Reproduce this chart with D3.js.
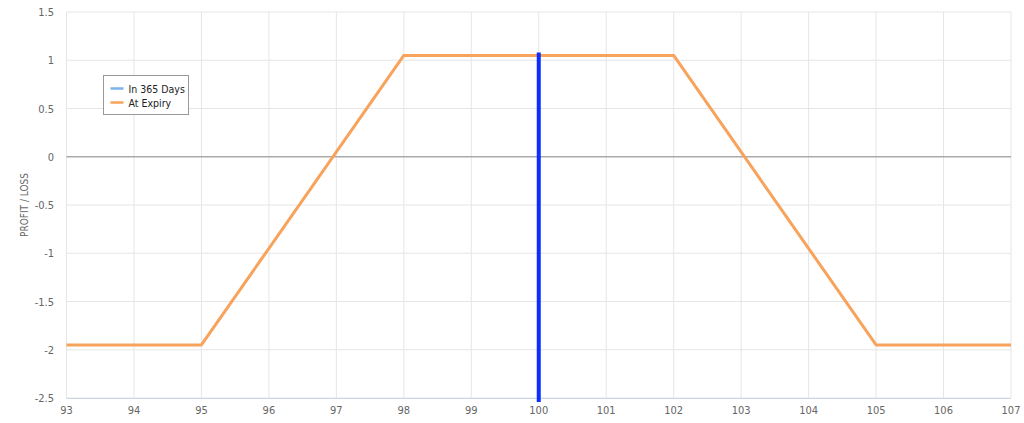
<!DOCTYPE html>
<html><head><meta charset="utf-8">
<script src="https://cdn.jsdelivr.net/npm/d3@7"></script>
<style>
body{margin:0;background:#fff;}
text{font-family:"DejaVu Sans Condensed","DejaVu Sans",sans-serif;font-stretch:condensed;}
</style></head><body>
<svg id="c" width="1024" height="423"></svg>
<script>
const xTicks = [93,94,95,96,97,98,99,100,101,102,103,104,105,106,107];
const yTicks = [-2.5,-2,-1.5,-1,-0.5,0,0.5,1,1.5];
const expiryX = [93,95,98,102,105,107];
const expiryY = [-1.95,-1.95,1.05,1.05,-1.95,-1.95];
const currentPrice = 100;
const seriesNames = ["In 365 Days","At Expiry"];
const seriesColors = ["#7cb5ec","#f7a35c"];

const svg = d3.select("#c");
const L=66.5,R=1011,T=12,B=398;
const x = d3.scaleLinear().domain([93,107]).range([L,R]);
const y = d3.scaleLinear().domain([-2.5,1.5]).range([B,T]);

// grid
svg.append("g").selectAll("line").data(xTicks).join("line")
  .attr("x1",d=>x(d)).attr("x2",d=>x(d)).attr("y1",T).attr("y2",B)
  .attr("stroke","#e6e6e6").attr("stroke-width",1);
svg.append("g").selectAll("line").data(yTicks).join("line")
  .attr("x1",L).attr("x2",R).attr("y1",d=>y(d)).attr("y2",d=>y(d))
  .attr("stroke",d=>d===0?"#aaaaaa":"#e6e6e6").attr("stroke-width",d=>d===0?1.5:1);
// bottom axis line
svg.append("line").attr("x1",L).attr("x2",R).attr("y1",B+0.5).attr("y2",B+0.5)
  .attr("stroke","#ccd6eb");

// tick labels
svg.append("g").selectAll("text").data(xTicks).join("text")
  .attr("x",d=>x(d)).attr("y",414).attr("text-anchor","middle")
  .attr("font-size",11).attr("fill","#666").text(d=>d);
svg.append("g").selectAll("text").data(yTicks).join("text")
  .attr("x",54).attr("y",d=>y(d)+4).attr("text-anchor","end")
  .attr("font-size",11).attr("fill","#666").text(d=>d);

svg.append("text").attr("transform","translate(28,205) rotate(-90)")
  .attr("text-anchor","middle").attr("font-size",10).attr("fill","#666")
  .text("PROFIT / LOSS");

// expiry line
const pts = expiryX.map((d,i)=>[d,expiryY[i]]);
svg.append("path").datum(pts)
  .attr("d",d3.line().x(d=>x(d[0])).y(d=>y(d[1])))
  .attr("fill","none").attr("stroke",seriesColors[1]).attr("stroke-width",3)
  .attr("stroke-linejoin","round");

// current price line
svg.append("line").attr("x1",x(currentPrice)).attr("x2",x(currentPrice))
  .attr("y1",y(1.05)-3).attr("y2",B+4)
  .attr("stroke","#0a2eff").attr("stroke-width",4);

// legend
const lg = svg.append("g").attr("transform","translate(103.5,75.5)");
lg.append("rect").attr("width",85).attr("height",39).attr("fill","#fff")
  .attr("stroke","#999").attr("stroke-width",1);
seriesNames.forEach((n,i)=>{
  const yy = 13+i*14;
  lg.append("line").attr("x1",7).attr("x2",20).attr("y1",yy).attr("y2",yy)
    .attr("stroke",seriesColors[i]).attr("stroke-width",2.5);
  lg.append("text").attr("x",25).attr("y",yy+4).attr("font-size",10.5)
    .attr("fill","#222").text(n);
});
</script></body></html>
